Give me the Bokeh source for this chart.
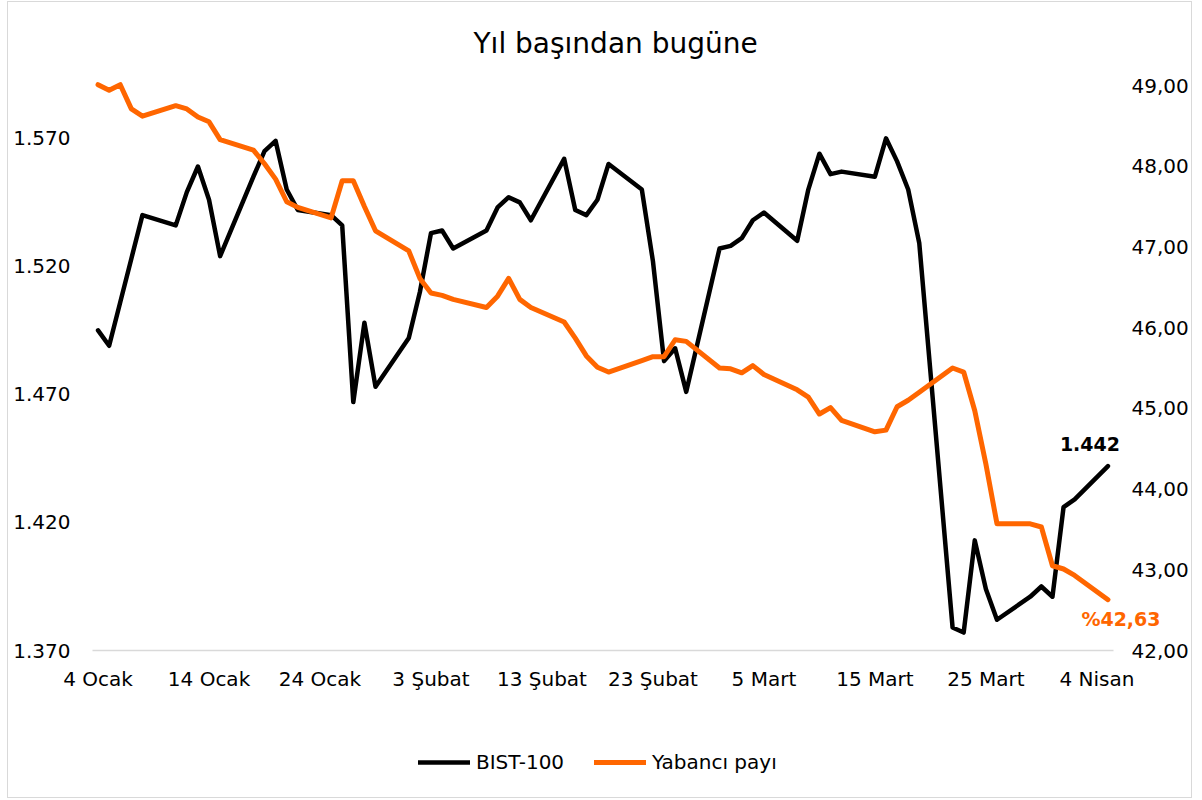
import pandas as pd
from bokeh.plotting import figure
from bokeh.models import Range1d, LinearAxis, FixedTicker, Legend, LegendItem, Label, ColumnDataSource
from bokeh.embed import file_html
from bokeh.resources import INLINE

dates = [
    "2021-01-04", "2021-01-05", "2021-01-06", "2021-01-07", "2021-01-08",
    "2021-01-11", "2021-01-12", "2021-01-13", "2021-01-14", "2021-01-15",
    "2021-01-18", "2021-01-19", "2021-01-20", "2021-01-21", "2021-01-22",
    "2021-01-25", "2021-01-26", "2021-01-27", "2021-01-28", "2021-01-29",
    "2021-02-01", "2021-02-02", "2021-02-03", "2021-02-04", "2021-02-05",
    "2021-02-08", "2021-02-09", "2021-02-10", "2021-02-11", "2021-02-12",
    "2021-02-15", "2021-02-16", "2021-02-17", "2021-02-18", "2021-02-19",
    "2021-02-22", "2021-02-23", "2021-02-24", "2021-02-25", "2021-02-26",
    "2021-03-01", "2021-03-02", "2021-03-03", "2021-03-04", "2021-03-05",
    "2021-03-08", "2021-03-09", "2021-03-10", "2021-03-11", "2021-03-12",
    "2021-03-15", "2021-03-16", "2021-03-17", "2021-03-18", "2021-03-19",
    "2021-03-22", "2021-03-23", "2021-03-24", "2021-03-25", "2021-03-26",
    "2021-03-29", "2021-03-30", "2021-03-31", "2021-04-01", "2021-04-02",
    "2021-04-05",
]

bist100 = [
    1495, 1489, 1506, 1523, 1540,
    1536, 1549, 1559, 1546, 1524,
    1555, 1565, 1569, 1550, 1542,
    1540, 1536, 1467, 1498, 1473,
    1492, 1510, 1533, 1534, 1527,
    1534, 1543, 1547, 1545, 1538,
    1562, 1542, 1540, 1546, 1560,
    1550, 1522, 1483, 1488, 1471,
    1527, 1528, 1531, 1538, 1541,
    1530, 1550, 1564, 1556, 1557,
    1555, 1570, 1561, 1550, 1529,
    1379, 1377, 1413, 1394, 1382,
    1391, 1395, 1391, 1426, 1429,
    1442,
]

yabanci_payi = [
    49.01, 48.94, 49.01, 48.71, 48.62,
    48.75, 48.71, 48.61, 48.55, 48.33,
    48.20, 48.03, 47.84, 47.56, 47.49,
    47.36, 47.82, 47.82, 47.50, 47.20,
    46.95, 46.61, 46.43, 46.40, 46.35,
    46.25, 46.39, 46.61, 46.35, 46.25,
    46.07, 45.87, 45.65, 45.51, 45.45,
    45.59, 45.64, 45.64, 45.85, 45.83,
    45.50, 45.49, 45.44, 45.53, 45.42,
    45.23, 45.14, 44.93, 45.01, 44.85,
    44.71, 44.73, 45.02, 45.10, 45.20,
    45.50, 45.45, 44.97, 44.31, 43.57,
    43.57, 43.53, 43.05, 43.01, 42.93,
    42.63,
]

x_tick_dates = ["2021-01-04", "2021-01-14", "2021-01-24", "2021-02-03", "2021-02-13",
                "2021-02-23", "2021-03-05", "2021-03-15", "2021-03-25", "2021-04-04"]
x_tick_labels = ["4 Ocak", "14 Ocak", "24 Ocak", "3 Şubat", "13 Şubat",
                 "23 Şubat", "5 Mart", "15 Mart", "25 Mart", "4 Nisan"]
left_ticks = [1370, 1420, 1470, 1520, 1570]
right_ticks = [42, 43, 44, 45, 46, 47, 48, 49]

title_text = "Yıl başından bugüne"
series_names = ["BIST-100", "Yabancı payı"]

FONT = "DejaVu Sans"
BLACK = "#000000"
ORANGE = "#FF6600"
GRID_GREY = "#d9d9d9"

start = pd.Timestamp(dates[0])
day = [(pd.Timestamp(d) - start).days for d in dates]
tick_days = [(pd.Timestamp(d) - start).days for d in x_tick_dates]

# axis domain of the original chart, plus surrounding room for labels / legend
X_START, X_END = -0.5, 91.5
LEFT_MIN, LEFT_MAX = 1370, 1600
RIGHT_MIN = 42
W, H = 1185, 797
BORDER_T = 59
FRAME_W, FRAME_H = W, H - BORDER_T
pad_left_px = 84          # canvas px left of the axis domain
axis_px_w = 1021          # width of the axis domain in px
axis_px_h = 589           # height from the 1.370 baseline to the top
px_per_day = axis_px_w / (X_END - X_START)
px_per_left = axis_px_h / (LEFT_MAX - LEFT_MIN)
px_per_right = 565 / 7.0
below_px = FRAME_H - axis_px_h

x_lo = X_START - pad_left_px / px_per_day
x_range = Range1d(x_lo, x_lo + FRAME_W / px_per_day)
y_range = Range1d(LEFT_MIN - below_px / px_per_left, LEFT_MAX)
right_range = Range1d(RIGHT_MIN - below_px / px_per_right, RIGHT_MIN + axis_px_h / px_per_right)

src = ColumnDataSource(dict(day=day, bist=bist100, yab=yabanci_payi))

p = figure(width=W, height=H, output_backend="svg", toolbar_location=None,
           x_range=x_range, y_range=y_range,
           min_border_left=0, min_border_right=0, min_border_top=BORDER_T, min_border_bottom=0)
p.extra_y_ranges = {"pct": right_range}

p.title.text = title_text
p.title.align = "left"
p.title.offset = 465
p.title.text_font = FONT
p.title.text_font_size = "28px"
p.title.text_font_style = "normal"
p.title.text_color = "#000000"
p.title.standoff = 4

p.grid.visible = False
p.outline_line_color = None
p.background_fill_color = "white"
p.border_fill_color = "white"
p.styles = {"margin-left": "7px", "margin-top": "1px", "border": f"1px solid {GRID_GREY}"}

# x axis (drawn at the 1.370 baseline)
xa = p.xaxis[0]
xa.fixed_location = LEFT_MIN
xa.bounds = (X_START, X_END)
xa.ticker = FixedTicker(ticks=tick_days)
xa.major_label_overrides = {t: l for t, l in zip(tick_days, x_tick_labels)}
xa.axis_line_color = GRID_GREY
xa.axis_line_width = 1.5
xa.major_tick_line_color = None
xa.minor_tick_line_color = None
xa.major_tick_out = 0
xa.major_tick_in = 0
xa.major_label_standoff = 16
xa.major_label_text_font = FONT
xa.major_label_text_font_size = "20px"
xa.major_label_text_color = "#000000"

# left axis (drawn at the left edge of the axis domain)
ya = p.yaxis[0]
ya.fixed_location = X_START
ya.ticker = FixedTicker(ticks=left_ticks)
ya.major_label_overrides = {t: f"{t:,}".replace(",", ".") for t in left_ticks}
ya.axis_line_color = None
ya.major_tick_line_color = None
ya.minor_tick_line_color = None
ya.major_tick_out = 0
ya.major_tick_in = 0
ya.major_label_standoff = 22
ya.major_label_text_font = FONT
ya.major_label_text_font_size = "20px"
ya.major_label_text_color = "#000000"

# right axis (drawn at the right edge of the axis domain)
ra = LinearAxis(y_range_name="pct", fixed_location=X_END)
ra.ticker = FixedTicker(ticks=right_ticks)
ra.major_label_overrides = {t: f"{t:.2f}".replace(".", ",") for t in right_ticks}
ra.axis_line_color = None
ra.major_tick_line_color = None
ra.minor_tick_line_color = None
ra.major_tick_out = 0
ra.major_tick_in = 0
ra.major_label_standoff = 18
ra.major_label_text_font = FONT
ra.major_label_text_font_size = "20px"
ra.major_label_text_color = "#000000"
p.add_layout(ra, "right")

r1 = p.line("day", "bist", source=src, line_color=BLACK, line_width=4.5, line_join="round", line_cap="round")
r2 = p.line("day", "yab", source=src, y_range_name="pct", line_color=ORANGE, line_width=5,
            line_join="round", line_cap="round")

# end-of-series labels
p.add_layout(Label(x=day[-1], y=bist100[-1], text=f"{bist100[-1]:,}".replace(",", "."),
                   x_offset=-18, y_offset=15, text_align="center", text_baseline="bottom",
                   text_font=FONT, text_font_size="19px", text_font_style="bold", text_color=BLACK))
p.add_layout(Label(x=day[-1], y=yabanci_payi[-1], y_range_name="pct",
                   text="%" + f"{yabanci_payi[-1]:.2f}".replace(".", ","),
                   x_offset=13, y_offset=-8, text_align="center", text_baseline="top",
                   text_font=FONT, text_font_size="19px", text_font_style="bold", text_color=ORANGE))

legend = Legend(items=[LegendItem(label=series_names[0], renderers=[r1]),
                       LegendItem(label=series_names[1], renderers=[r2])],
                orientation="horizontal", location=(pad_left_px + 326, 25),
                glyph_width=52, glyph_height=20, label_text_font=FONT, label_text_color="#000000",
                label_text_font_size="20px", label_standoff=6, spacing=30, padding=0,
                border_line_color=None, background_fill_alpha=0, margin=0)
p.add_layout(legend, "center")

open("out.html", "w").write(file_html(p, INLINE))
